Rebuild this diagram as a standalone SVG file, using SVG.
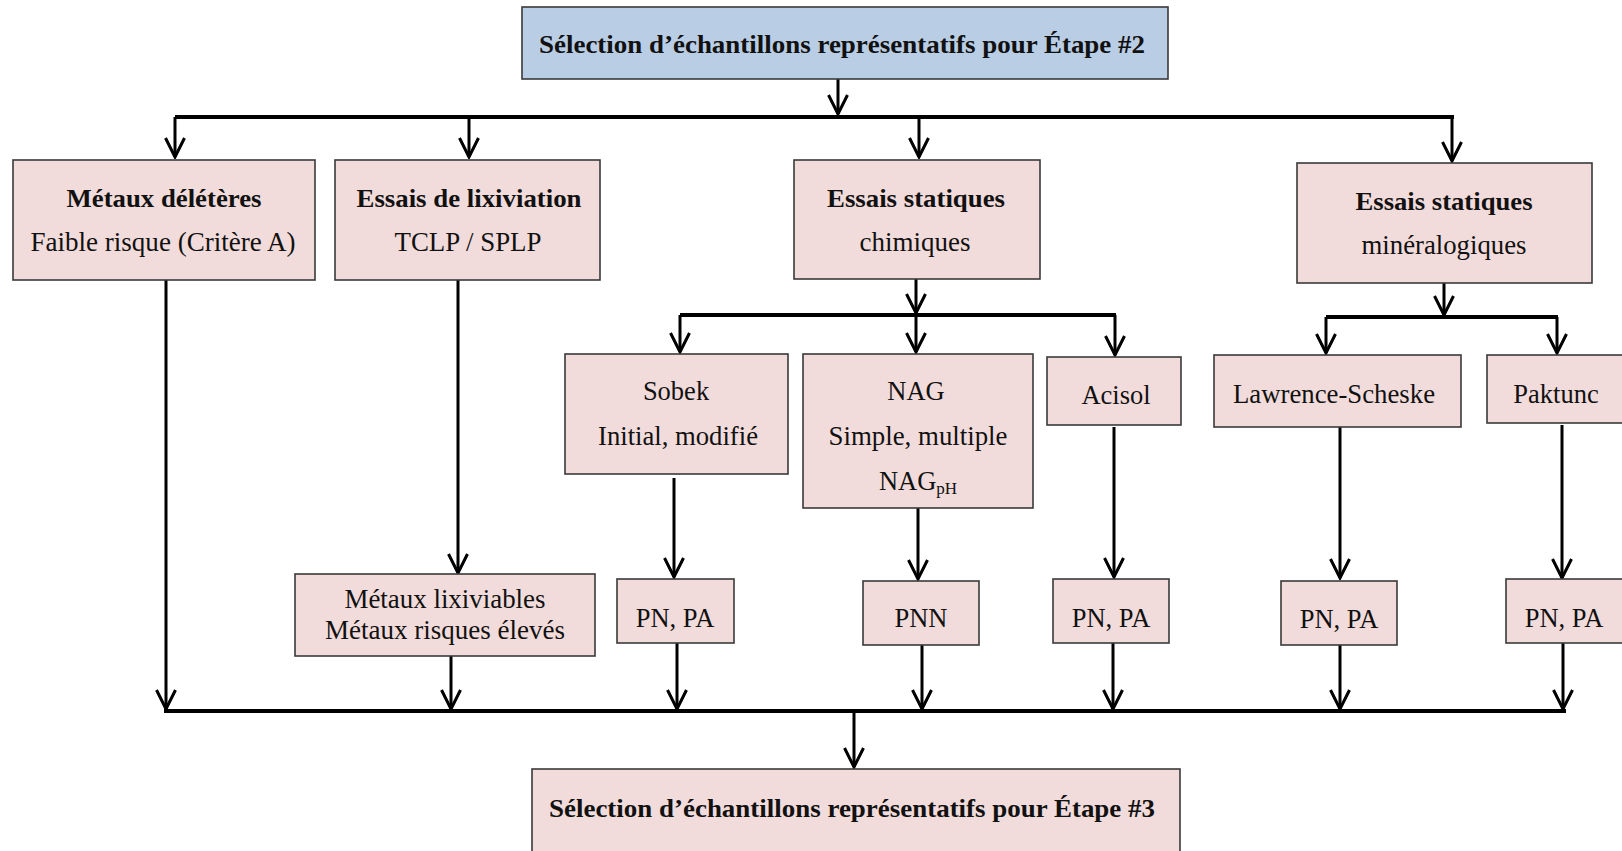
<svg xmlns="http://www.w3.org/2000/svg" width="1622" height="851" viewBox="0 0 1622 851">
<defs>
<style>
.box{fill:#f2dcdb;stroke:#3a3a3a;stroke-width:1.6}
.blue{fill:#b9cde5;stroke:#3a3a3a;stroke-width:1.6}
.b{font-family:"Liberation Serif","Times New Roman",serif;font-weight:bold;font-size:26px;fill:#111;text-anchor:middle}
.r{font-family:"Liberation Serif","Times New Roman",serif;font-size:26.5px;fill:#111;text-anchor:middle}
.ln{fill:none;stroke:#000;stroke-width:3;marker-end:url(#ah)}
.bus{fill:none;stroke:#000;stroke-width:4}
</style>
<marker id="ah" markerUnits="userSpaceOnUse" viewBox="-22 -12 24 24" refX="0" refY="0" markerWidth="24" markerHeight="24" orient="auto">
<path d="M-19,-9.5 L0,0 L-19,9.5" fill="none" stroke="#000" stroke-width="3"/>
</marker>
</defs>

<g id="connectors">
<path class="ln" d="M838,79 V114"/>
<path class="bus" d="M175,117 H1454"/>
<path class="ln" d="M175,117 V157"/>
<path class="ln" d="M469,117 V157"/>
<path class="ln" d="M919,117 V157"/>
<path class="ln" d="M1452,117 V161"/>
<path class="ln" d="M166,280 V709"/>
<path class="ln" d="M458,280 V573"/>
<path class="ln" d="M451,656 V709"/>
<path class="ln" d="M916,279 V313"/>
<path class="bus" d="M680,315 H1116"/>
<path class="ln" d="M680,315 V352"/>
<path class="ln" d="M916,315 V352"/>
<path class="ln" d="M1115,315 V355"/>
<path class="ln" d="M674,478 V577"/>
<path class="ln" d="M918,508 V579"/>
<path class="ln" d="M1114,427 V577"/>
<path class="ln" d="M1444,283 V315"/>
<path class="bus" d="M1326,317 H1558"/>
<path class="ln" d="M1326,317 V353"/>
<path class="ln" d="M1557,317 V353"/>
<path class="ln" d="M1340,427 V578"/>
<path class="ln" d="M1562,425 V578"/>
<path class="ln" d="M677,643 V709"/>
<path class="ln" d="M922,645 V709"/>
<path class="ln" d="M1113,643 V709"/>
<path class="ln" d="M1340,645 V709"/>
<path class="ln" d="M1563,643 V709"/>
<path class="bus" d="M164,711 H1566"/>
<path class="ln" d="M854,711 V767"/>
</g>

<g id="n-top">
<rect class="blue" x="522" y="7" width="646" height="72"/>
<text class="b" x="842" y="53" textLength="606" lengthAdjust="spacingAndGlyphs">Sélection d’échantillons représentatifs pour Étape #2</text>
</g>
<g id="n-metaux">
<rect class="box" x="13" y="160" width="302" height="120"/>
<text class="b" x="164" y="207" textLength="195" lengthAdjust="spacingAndGlyphs">Métaux délétères</text>
<text class="r" x="163" y="251" textLength="265" lengthAdjust="spacingAndGlyphs">Faible risque (Critère A)</text>
</g>
<g id="n-lixiviation">
<rect class="box" x="335" y="160" width="265" height="120"/>
<text class="b" x="469" y="207" textLength="225" lengthAdjust="spacingAndGlyphs">Essais de lixiviation</text>
<text class="r" x="468" y="251" textLength="147" lengthAdjust="spacingAndGlyphs">TCLP / SPLP</text>
</g>
<g id="n-chimiques">
<rect class="box" x="794" y="160" width="246" height="119"/>
<text class="b" x="916" y="207" textLength="178" lengthAdjust="spacingAndGlyphs">Essais statiques</text>
<text class="r" x="915" y="251" textLength="111" lengthAdjust="spacingAndGlyphs">chimiques</text>
</g>
<g id="n-mineralogiques">
<rect class="box" x="1297" y="163" width="295" height="120"/>
<text class="b" x="1444" y="210" textLength="177" lengthAdjust="spacingAndGlyphs">Essais statiques</text>
<text class="r" x="1444" y="254" textLength="165" lengthAdjust="spacingAndGlyphs">minéralogiques</text>
</g>
<g id="n-sobek">
<rect class="box" x="565" y="354" width="223" height="120"/>
<text class="r" x="676" y="400">Sobek</text>
<text class="r" x="678" y="445" textLength="160" lengthAdjust="spacingAndGlyphs">Initial, modifié</text>
</g>
<g id="n-nag">
<rect class="box" x="803" y="354" width="230" height="154"/>
<text class="r" x="916" y="400">NAG</text>
<text class="r" x="918" y="445" textLength="179" lengthAdjust="spacingAndGlyphs">Simple, multiple</text>
<text class="r" x="918" y="490">NAG<tspan font-size="17" dy="4">pH</tspan></text>
</g>
<g id="n-acisol">
<rect class="box" x="1047" y="357" width="134" height="68"/>
<text class="r" x="1116" y="404">Acisol</text>
</g>
<g id="n-lawrence">
<rect class="box" x="1214" y="355" width="247" height="72"/>
<text class="r" x="1334" y="403" textLength="202" lengthAdjust="spacingAndGlyphs">Lawrence-Scheske</text>
</g>
<g id="n-paktunc">
<rect class="box" x="1487" y="355" width="140" height="68"/>
<text class="r" x="1556" y="403">Paktunc</text>
</g>
<g id="n-lixiviables">
<rect class="box" x="295" y="574" width="300" height="82"/>
<text class="r" x="445" y="608" textLength="201" lengthAdjust="spacingAndGlyphs">Métaux lixiviables</text>
<text class="r" x="445" y="639" textLength="240" lengthAdjust="spacingAndGlyphs">Métaux risques élevés</text>
</g>
<g id="n-pnpa-sobek">
<rect class="box" x="617" y="579" width="117" height="64"/>
<text class="r" x="675" y="627">PN, PA</text>
</g>
<g id="n-pnn">
<rect class="box" x="863" y="581" width="116" height="64"/>
<text class="r" x="921" y="627">PNN</text>
</g>
<g id="n-pnpa-acisol">
<rect class="box" x="1053" y="579" width="116" height="64"/>
<text class="r" x="1111" y="627">PN, PA</text>
</g>
<g id="n-pnpa-lawrence">
<rect class="box" x="1281" y="581" width="116" height="64"/>
<text class="r" x="1339" y="628">PN, PA</text>
</g>
<g id="n-pnpa-paktunc">
<rect class="box" x="1506" y="579" width="120" height="64"/>
<text class="r" x="1564" y="627">PN, PA</text>
</g>
<g id="n-bottom">
<rect class="box" x="532" y="769" width="648" height="95"/>
<text class="b" x="852" y="817" textLength="606" lengthAdjust="spacingAndGlyphs">Sélection d’échantillons représentatifs pour Étape #3</text>
</g>
</svg>
